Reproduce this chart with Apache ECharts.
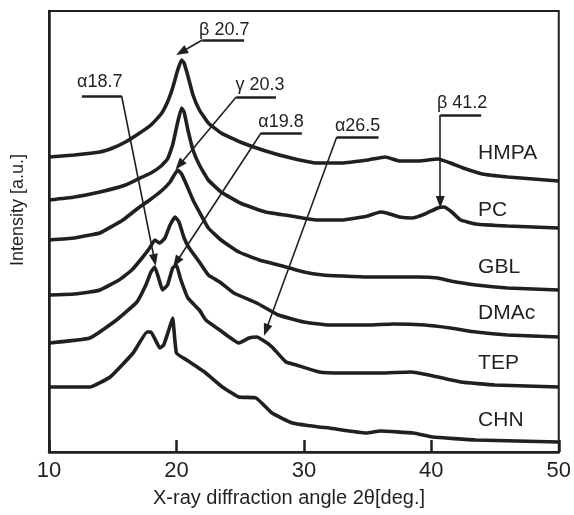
<!DOCTYPE html>
<html><head><meta charset="utf-8">
<script src="https://cdn.jsdelivr.net/npm/echarts@6/dist/echarts.min.js"></script>
<style>html,body{margin:0;padding:0;background:#fff}#c{width:574px;height:515px}</style>
</head><body><div id="c"></div>
<script>
// 2θ [deg], intensity [a.u., offset stacked]
const HMPA = [[10,295],[12,297],[14,300],[15,304],[16,310],[17,318],[18,327],[18.8,338],[19.3,350],[19.7,364],[20.1,382],[20.4,392],[20.6,389],[20.9,376],[21.3,357],[21.8,342],[22.5,329],[23.5,319],[25,310],[27,301],[29,294],[31,289],[33,289],[35,292],[36.4,295],[37.5,291],[39,291],[40.5,293],[41.5,289],[42.5,284],[44,278],[46,275],[48,273],[50,271]];
const PC = [[10,252],[12,255],[14,260],[16,267],[17,273],[18,279],[18.8,286],[19.3,293],[19.7,307],[20.1,330],[20.4,344],[20.6,340],[20.9,322],[21.3,302],[21.8,287],[22.5,272],[23.5,260],[25,249],[27,240],[29,236],[31,232],[33,232],[35,236],[36,240],[36.5,239],[37.5,235],[38.5,234],[39.5,238],[40.5,244],[41,245],[41.6,240],[42.3,232],[43.5,228],[46,226],[50,224]];
const GBL = [[10,212],[12,214],[13.2,217],[14,219],[15.8,232],[17,244],[17.9,252],[18.9,262],[19.5,270],[20.1,282],[20.4,278],[20.8,267],[21.3,252],[21.8,240],[22.5,224],[23.5,212],[24.9,200],[26.5,192],[28,187],[30,180],[31.5,177],[33,176],[35,175],[37,175],[39,175],[40.5,174],[41.5,171],[43.5,167],[46,164],[50,162]];
const DMAc = [[10,157],[12,158],[13.2,160],[14,162],[15.5,172],[16.5,182],[17.3,194],[17.9,204],[18.3,212],[18.7,209],[19.1,214],[19.5,227],[19.9,235],[20.2,230],[20.6,214],[21,204],[21.8,190],[22.5,177],[23.4,170],[24.5,159],[26.3,149],[28,137],[30,130],[32,127],[35,127],[37,128],[39.5,127],[41.5,124],[43.5,120],[46,117],[50,115]];
const TEP = [[10,109],[13.2,114],[15.3,132],[16.9,150],[17.6,167],[18.0,180],[18.3,185],[18.6,174],[18.9,162],[19.3,167],[19.7,184],[20.0,187],[20.3,174],[20.9,154],[21.8,142],[22.3,132],[23.4,122],[24.9,109],[25.7,114],[26.3,115],[27.0,110],[27.5,105],[28.6,90],[29.4,87],[31.2,80],[33,79],[35,79],[36,79],[38.4,80],[39.8,77],[42.3,70],[45,67],[50,65]];
const CHN = [[10,65],[13.2,65],[14.8,75],[16.6,99],[17.7,120],[18.0,120],[18.7,104],[19.0,107],[19.4,122],[19.7,134],[20.0,99],[20.8,92],[22.3,79],[23.6,65],[24.9,55],[26.25,54],[27.5,39],[29.1,29],[31.2,25],[32.0,24],[34.9,19],[36.0,21],[38.6,19],[40.1,15],[43.5,12],[50,10]];

const curveNames = ['HMPA','PC','GBL','DMAc','TEP','CHN'];
const curveData = [HMPA, PC, GBL, DMAc, TEP, CHN];
const curveLabelAt = [[43.67,299],[43.67,242],[43.67,185],[43.67,139],[43.67,89],[43.67,32]];

// annotation: label text, label centre, underline ends, arrow start -> tip
const annTexts = ['β 20.7','α18.7','γ 20.3','α19.8','α26.5','β 41.2'];
const annTextAt = [[23.75,422],[13.98,370],[26.56,367],[28.2,330],[34.22,326],[42.42,349]];
const annUnderline = [[[22.03,412],[25.31,412]],[[12.58,356],[15.70,356]],[[24.69,355],[27.81,355]],[[26.64,319],[29.84,319]],[[32.58,315],[35.86,315]],[[40.70,337],[43.91,337]]];
const annArrow = [[[22.03,412],[20.39,400]],[[15.70,356],[18.28,192]],[[24.69,355],[20.23,287]],[[26.64,319],[20.0,190]],[[32.58,315],[27.03,122]],[[40.70,337],[40.70,250]]];

const INK = '#231f20';
const FONT = '"Liberation Sans", Arial, sans-serif';

const chart = echarts.init(document.getElementById('c'), null, {renderer:'canvas'});

const series = curveNames.map((n, i) => ({
  name: n, type: 'line', data: curveData[i], showSymbol: false, smooth: 0.12,
  lineStyle: {color: INK, width: 3.6}, silent: true,
  markPoint: {
    silent: true, animation: false,
    data: [{coord: curveLabelAt[i], symbol: 'circle', symbolSize: 0,
      label: {show: true, position: 'right', distance: 0, formatter: n, fontSize: 21, color: INK, fontFamily: FONT}}]
  }
}));

const mlData = [];
annUnderline.forEach(u => mlData.push([{coord: u[0], symbol: 'none', lineStyle: {width: 2.6, color: INK, type: 'solid'}}, {coord: u[1], symbol: 'none'}]));
annArrow.forEach(a => mlData.push([{coord: a[0], symbol: 'none', lineStyle: {width: 1.6, color: INK, type: 'solid'}}, {coord: a[1], symbol: 'triangle', symbolSize: [9, 12]}]));

series.push({
  name: 'ann', type: 'line', data: [], silent: true,
  markLine: {silent: true, animation: false, label: {show: false}, lineStyle: {color: INK, type: 'solid'}, itemStyle: {color: INK}, data: mlData},
  markPoint: {silent: true, animation: false,
    data: annTexts.map((t, i) => ({coord: annTextAt[i], symbol: 'circle', symbolSize: 0,
      label: {show: true, position: 'inside', formatter: t, fontSize: 18, color: INK, fontFamily: FONT}}))}
});

chart.setOption({
  animation: false,
  backgroundColor: '#fff',
  grid: {left: 49, right: 13, top: 11, bottom: 63, show: true, borderColor: INK, borderWidth: 2},
  xAxis: {type: 'value', min: 10, max: 50, interval: 10,
    axisLine: {lineStyle: {color: INK, width: 2.5}},
    axisTick: {inside: true, length: 12, lineStyle: {color: INK, width: 2.5}},
    axisLabel: {fontSize: 22, color: INK, margin: 8, fontFamily: FONT},
    splitLine: {show: false}},
  yAxis: {type: 'value', min: 0, max: 441,
    axisLine: {show: true, lineStyle: {color: INK, width: 2.5}},
    axisTick: {show: false}, axisLabel: {show: false}, splitLine: {show: false}},
  graphic: [
    {type: 'text', x: 289, y: 498, style: {text: 'X-ray diffraction angle 2θ[deg.]', font: '20px ' + FONT, fill: INK, textAlign: 'center', textVerticalAlign: 'middle'}},
    {type: 'text', x: 18, y: 210, rotation: Math.PI / 2, style: {text: 'Intensity [a.u.]', font: '18px ' + FONT, fill: INK, textAlign: 'center', textVerticalAlign: 'middle'}}
  ],
  series: series
});
</script></body></html>
